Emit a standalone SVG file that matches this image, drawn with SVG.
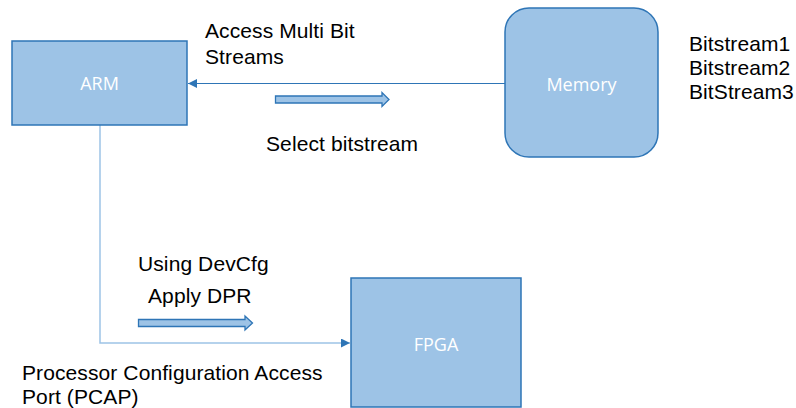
<svg xmlns="http://www.w3.org/2000/svg" width="796" height="408" viewBox="0 0 796 408">
<defs>
<style>
.node{fill:#9dc3e6;stroke:#2e75b6;stroke-width:1.5}
.nl{font-family:"Open Sans","Liberation Sans",sans-serif;font-size:18px;fill:#ffffff;text-anchor:middle}
.lb{font-family:"Liberation Sans",Arial,sans-serif;font-size:21px;letter-spacing:0.1px;fill:#000000}
.blk{fill:#9dc3e6;stroke:#2e75b6;stroke-width:1.3}
</style>
<marker id="ah" viewBox="0 0 10 10" refX="10" refY="5" markerWidth="9" markerHeight="9" markerUnits="userSpaceOnUse" orient="auto">
<path d="M0,0 L10,5 L0,10 z" fill="#2e75b6"/>
</marker>
</defs>
<rect width="796" height="408" fill="#ffffff"/>
<g id="connectors">
<line x1="505" y1="83.5" x2="188" y2="83.5" stroke="#2e75b6" stroke-width="1" marker-end="url(#ah)"/>
<polyline points="100,125 100,343 350,343" fill="none" stroke="#9dc3e6" stroke-width="1.5" marker-end="url(#ah)"/>
<polygon class="blk" points="275.5,96 382,96 382,92.5 389,99.5 382,106.5 382,103 275.5,103"/>
<polygon class="blk" points="138.5,319.5 245,319.5 245,316 252.5,323 245,330 245,326.5 138.5,326.5"/>
</g>
<g id="arm">
<rect class="node" x="12" y="41" width="175" height="84"/>
<text class="nl" x="99.5" y="90">ARM</text>
</g>
<g id="memory">
<rect class="node" x="505" y="8" width="153" height="149" rx="24" ry="24"/>
<text class="nl" x="581.5" y="91">Memory</text>
</g>
<g id="fpga">
<rect class="node" x="351" y="278" width="170" height="129"/>
<text class="nl" x="436" y="351">FPGA</text>
</g>
<g id="labels">
<text class="lb" x="205" y="38">Access Multi Bit</text>
<text class="lb" x="205" y="64">Streams</text>
<text class="lb" x="266" y="151">Select bitstream</text>
<text class="lb" x="689" y="51">Bitstream1</text>
<text class="lb" x="689" y="75">Bitstream2</text>
<text class="lb" x="689" y="99">BitStream3</text>
<text class="lb" x="138" y="271">Using DevCfg</text>
<text class="lb" x="148" y="303">Apply DPR</text>
<text class="lb" x="22" y="380">Processor Configuration Access</text>
<text class="lb" x="22" y="404">Port (PCAP)</text>
</g>
</svg>
